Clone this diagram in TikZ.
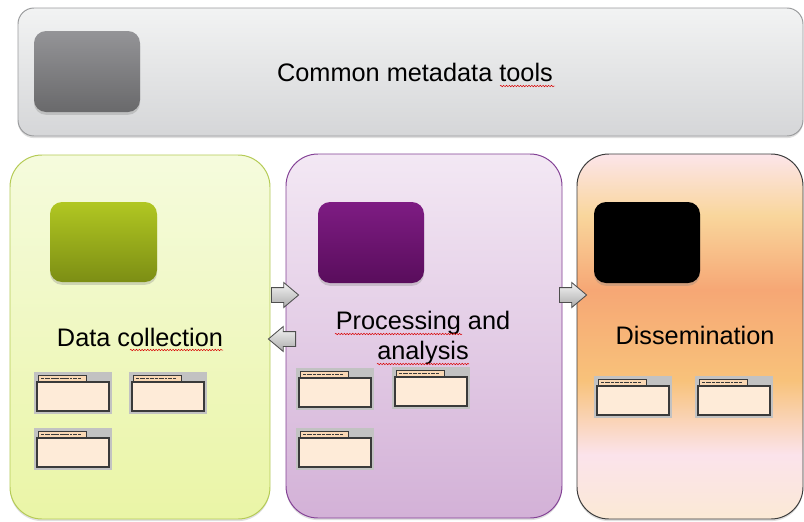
\documentclass[tikz,border=0pt]{standalone}
\usepackage{fontspec}
\setmainfont{Liberation Sans}
\usetikzlibrary{shapes.arrows,shadows,decorations.pathmorphing}

\definecolor{barTop}{HTML}{F2F3F3}
\definecolor{barBot}{HTML}{D5D6D8}
\definecolor{barEdge}{HTML}{9A9B9D}
\definecolor{greyTop}{HTML}{949497}
\definecolor{greyBot}{HTML}{69696B}
\definecolor{greenTop}{HTML}{F5FBDD}
\definecolor{greenBot}{HTML}{EAF5A6}
\definecolor{greenEdge}{HTML}{B5CB55}
\definecolor{oliveTop}{HTML}{B1C722}
\definecolor{oliveBot}{HTML}{7C8E14}
\definecolor{lilacTop}{HTML}{F3E8F4}
\definecolor{lilacBot}{HTML}{D3B1D7}
\definecolor{lilacEdge}{HTML}{844296}
\definecolor{plumTop}{HTML}{7E1C83}
\definecolor{plumBot}{HTML}{590D5C}
\definecolor{dsTop}{HTML}{FCE5EA}
\definecolor{dsSand}{HTML}{F9D69C}
\definecolor{dsOrange}{HTML}{F6A775}
\definecolor{dsAmber}{HTML}{F8C27A}
\definecolor{dsPink}{HTML}{FBE3EB}
\definecolor{dsBot}{HTML}{FBE9D5}
\definecolor{dsEdge}{HTML}{3C3C3C}
\definecolor{arrowTop}{HTML}{F4F4F4}
\definecolor{arrowBot}{HTML}{ABABAB}
\definecolor{arrowEdge}{HTML}{4E4E4E}
\definecolor{winGrey}{HTML}{C2C2C2}
\definecolor{winTab}{HTML}{FAD8B4}
\definecolor{winBody}{HTML}{FEEBD8}
\definecolor{winEdge}{HTML}{3A3A3A}

\pgfdeclareverticalshading{dissemshade}{100bp}{%
  color(0bp)=(dsBot); color(25bp)=(dsBot); color(33.8bp)=(dsPink);
  color(44bp)=(dsAmber); color(56.4bp)=(dsOrange); color(66.6bp)=(dsSand);
  color(75bp)=(dsTop); color(100bp)=(dsTop)}

\tikzset{
  paneltext/.style={font=\fontsize{18}{21.6}\selectfont, text=black, align=center},
  panel/.style={rounded corners=0.8cm, line width=0.7pt,
    drop shadow={shadow xshift=0pt, shadow yshift=-1.5pt, opacity=0.25}},
  icon/.style={rounded corners=0.3cm,
    drop shadow={shadow xshift=0pt, shadow yshift=-2pt, opacity=0.3}},
  flow/.style={single arrow, draw=arrowEdge, line width=0.6pt,
    top color=arrowTop, bottom color=arrowBot, anchor=tail,
    minimum height=0.68cm, minimum width=0.6cm, inner xsep=0pt, inner ysep=0.175cm,
    single arrow head extend=0.125cm, single arrow tip angle=80},
  spell/.style={red!85!black, line width=0.35pt, decorate,
    decoration={snake, amplitude=0.5pt, segment length=2pt}},
  winicon/.pic={
    \fill[winGrey] (0,0) rectangle (78,42);
    \draw[winEdge, line width=0.4pt, fill=winTab] (4,3) rectangle (52,10);
    \draw[winEdge, line width=1.2pt,
      dash pattern=on 2pt off 0.7pt on 4pt off 0.7pt on 1.5pt off 0.7pt on 3pt off 0.7pt]
      (7,6.5) -- (47,6.5);
    \draw[winEdge, line width=1.1pt, fill=winBody] (3,10) rectangle (75,39);
  }
}

\begin{document}
\begin{tikzpicture}[x=0.025cm, y=-0.025cm]
	\useasboundingbox[fill=white] (0,0) rectangle (804,521);

	% common tools bar
	\path[panel, rounded corners=0.4cm, draw=barEdge, top color=barTop, bottom color=barBot]
		(18,8) rectangle (803,136);
	\path[icon, top color=greyTop, bottom color=greyBot] (34,31) rectangle (140,112);
	\node[paneltext] (tools) at (415,72) {Common metadata tools};

	% three stages
	\path[panel, draw=greenEdge, top color=greenTop, bottom color=greenBot]
		(10,155) rectangle (270,519);
	\path[panel, draw=lilacEdge, top color=lilacTop, bottom color=lilacBot]
		(286,154) rectangle (562,518);
	\path[panel, draw=dsEdge, shading=dissemshade]
		(577,154) rectangle (803,519);

	\path[icon, top color=oliveTop, bottom color=oliveBot] (50,202) rectangle (157,282);
	\path[icon, top color=plumTop, bottom color=plumBot] (318,202) rectangle (424,283);
	\path[icon, fill=black] (594,202) rectangle (700,283);

	\node[paneltext] (collect) at (140,337) {Data collection};
	\node[paneltext] (process) at (423,338) {Processing and\\analysis};
	\node[paneltext] (dissem) at (695,335) {Dissemination};

	% spelling marks
	\draw[spell] (500,86) -- (555,86);
	\draw[spell] (130,350) -- (223,350);
	\draw[spell] (335,334) -- (462,334);
	\draw[spell] (377,364) -- (469,364);

	% flow arrows
	\node[flow] (fwd) at (271,295) {};
	\node[flow, shape border rotate=180] (back) at (296,339) {};
	\node[flow] (out) at (559,295) {};

	% windows
	\pic at (34,372) {winicon};
	\pic at (129,372) {winicon};
	\pic at (34,428) {winicon};
	\pic at (296,368) {winicon};
	\pic at (392,367) {winicon};
	\pic at (296,428) {winicon};
	\pic at (594,376) {winicon};
	\pic at (695,376) {winicon};
\end{tikzpicture}
\end{document}
